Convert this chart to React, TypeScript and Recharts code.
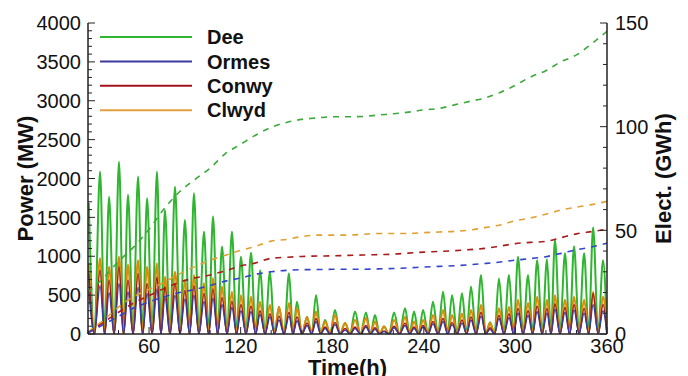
import { LineChart, Line, XAxis, YAxis, Legend } from 'recharts';

// peak / trough times of each generation phase (h)
const peakTimes = [20.5, 27.9, 33.8, 40.3, 46.2, 52.8, 58.7, 65.2, 70.4, 77.0, 83.5, 89.4, 96.0, 101.9, 107.8, 114.3, 120.2, 126.8, 132.7, 139.2, 145.1, 151.7, 156.9, 163.5, 169.4, 175.3, 181.8, 188.4, 194.9, 202.1, 208.0, 213.9, 220.5, 227.7, 233.6, 239.5, 246.0, 252.6, 258.5, 265.0, 270.9, 277.5, 283.4, 289.2, 295.8, 301.7, 308.3, 314.2, 320.7, 325.9, 332.5, 338.4, 345.0, 350.9, 357.4];
const troughTimes = [24.2, 30.9, 37.1, 43.3, 49.5, 55.8, 62.0, 67.8, 73.7, 80.3, 86.5, 92.7, 99.0, 104.9, 111.1, 117.3, 123.5, 129.8, 136.0, 142.2, 148.4, 154.3, 160.2, 166.5, 172.4, 178.6, 185.1, 191.7, 198.5, 205.1, 211.0, 217.2, 224.1, 230.7, 236.6, 242.8, 249.3, 255.6, 261.8, 268.0, 274.2, 280.5, 286.3, 292.5, 298.8, 305.0, 311.3, 317.5, 323.3, 329.2, 335.5, 341.7, 348.0, 354.2, 360];

// peak power (MW)
const deePeaks = [1685, 2090, 1765, 2215, 1790, 2025, 1745, 2090, 1595, 1895, 1465, 1810, 1315, 1510, 1125, 1315, 995, 1045, 820, 800, 350, 780, 415, 220, 500, 180, 310, 140, 290, 275, 245, 95, 275, 330, 290, 310, 415, 545, 500, 525, 610, 760, 150, 715, 760, 995, 760, 950, 960, 1210, 1040, 1130, 1040, 1370, 950];
const ormesPeaks = [560, 620, 530, 650, 540, 600, 520, 580, 470, 500, 450, 500, 420, 460, 380, 340, 300, 290, 250, 220, 180, 230, 170, 110, 160, 70, 120, 50, 70, 90, 60, 30, 80, 110, 70, 90, 130, 160, 120, 140, 180, 230, 60, 200, 210, 270, 240, 290, 270, 320, 280, 310, 270, 380, 300];
const conwyPeaks = [780, 825, 695, 865, 695, 780, 650, 735, 610, 650, 560, 620, 520, 580, 470, 420, 380, 360, 300, 260, 230, 280, 220, 140, 200, 90, 150, 70, 90, 110, 80, 40, 100, 140, 90, 110, 160, 200, 150, 180, 220, 280, 80, 240, 260, 330, 300, 360, 330, 390, 340, 380, 330, 520, 380];
const clwydPeaks = [910, 975, 865, 995, 890, 950, 865, 910, 735, 800, 695, 760, 655, 720, 610, 545, 500, 480, 415, 375, 350, 400, 335, 220, 290, 160, 245, 140, 180, 205, 160, 95, 180, 220, 160, 180, 245, 310, 245, 265, 310, 375, 140, 330, 350, 440, 400, 480, 440, 500, 440, 480, 440, 545, 480];

// cumulative electricity (GWh)
const cumTimes = [20, 30, 40, 50, 60, 70, 80, 90, 100, 110, 120, 130, 140, 150, 160, 170, 180, 190, 200, 210, 220, 230, 240, 250, 260, 270, 280, 290, 300, 310, 320, 330, 340, 350, 360];
const deeCum = [20, 27, 35, 42, 50.5, 60.5, 68.6, 74.5, 80, 87, 91.5, 96, 99.7, 102, 103.5, 104.2, 104.8, 104.8, 104.9, 105.6, 106.2, 107, 108.1, 108.8, 110.5, 112.2, 113.8, 116.5, 120, 124, 127, 131.4, 134.6, 140, 146];
const ormesCum = [0.5, 4.5, 8.5, 12.5, 15.5, 18, 20, 21.5, 23.4, 25.5, 27, 28.8, 30, 30.7, 31, 31.1, 31.2, 31.2, 31.2, 31.4, 31.6, 31.9, 32.3, 32.6, 32.9, 33.4, 34, 34.7, 35.6, 36.4, 37.3, 38.9, 40.6, 42, 43.8];
const conwyCum = [0.5, 5.5, 10.5, 15, 18.5, 22, 25, 27, 28.5, 30.5, 32.8, 34.3, 36.5, 37, 37.4, 37.6, 37.7, 37.9, 38.1, 38.3, 38.5, 39, 39.5, 39.8, 40.2, 40.7, 41.3, 42.4, 43.6, 44.2, 44.7, 46.5, 48.3, 49.4, 50.5];
const clwydCum = [1, 6.5, 13, 18, 21.5, 25, 29, 32.5, 35.5, 38, 40.3, 42.3, 44.8, 45.6, 47, 47.7, 47.7, 47.7, 48.1, 48.5, 48.5, 48.5, 48.9, 49.2, 49.5, 50.1, 51.3, 52.6, 54.6, 56, 57.8, 59.8, 61.2, 62.4, 64];

const xTicks = [20, 40, 60, 80, 100, 120, 140, 160, 180, 200, 220, 240, 260, 280, 300, 320, 340, 360];
const powerTicks = Array.from({ length: 41 }, (_, i) => i * 100);
const energyTicks = Array.from({ length: 16 }, (_, i) => i * 10);

const FONT = 'Liberation Sans, Arial, sans-serif';
const AXIS = '#222';

const powerData = peakTimes.flatMap((t, i) => [
  { t, dee: deePeaks[i], ormes: ormesPeaks[i], conwy: conwyPeaks[i], clwyd: clwydPeaks[i] },
  { t: troughTimes[i], dee: 0, ormes: 0, conwy: 0, clwyd: 0 },
]);

const cumData = cumTimes.map((t, i) => ({
  t,
  dee: deeCum[i],
  ormes: ormesCum[i],
  conwy: conwyCum[i],
  clwyd: clwydCum[i],
}));

const series = [
  { key: 'dee', name: 'Dee', color: '#2fb52f', dash: '#3aaa3a', width: 2 },
  { key: 'clwyd', name: 'Clwyd', color: '#e08a0a', dash: '#e0a030', width: 2 },
  { key: 'conwy', name: 'Conwy', color: '#a0141e', dash: '#a81c1c', width: 1.4 },
  { key: 'ormes', name: 'Ormes', color: '#3b3b9e', dash: '#3344cc', width: 1.4 },
];
const legendOrder = ['dee', 'ormes', 'conwy', 'clwyd'];

function LeftTick({ x, y, payload }: any) {
  const ax = x + 8;
  const major = payload.value % 500 === 0;
  return (
    <g>
      <line x1={ax} x2={ax + (major ? 7 : 4)} y1={y} y2={y} stroke={AXIS} strokeWidth={1} />
      {major && (
        <text x={ax - 7} y={y} dy="0.36em" textAnchor="end" fontSize={20} fontFamily={FONT} fill="#111">
          {payload.value}
        </text>
      )}
    </g>
  );
}

function RightTick({ x, y, payload }: any) {
  const ax = x - 8;
  const major = payload.value % 50 === 0;
  return (
    <g>
      <line x1={ax} x2={ax - (major ? 7 : 4)} y1={y} y2={y} stroke={AXIS} strokeWidth={1} />
      {major && (
        <text x={ax + 8} y={y} dy="0.36em" textAnchor="start" fontSize={20} fontFamily={FONT} fill="#111">
          {payload.value}
        </text>
      )}
    </g>
  );
}

function BottomTick({ x, y, payload }: any) {
  const ay = y - 8;
  const major = payload.value % 60 === 0;
  return (
    <g>
      <line x1={x} x2={x} y1={ay} y2={ay - (major ? 7 : 4)} stroke={AXIS} strokeWidth={1} />
      {major && (
        <text x={x} y={ay + 19} textAnchor="middle" fontSize={20} fontFamily={FONT} fill="#111">
          {payload.value}
        </text>
      )}
    </g>
  );
}

function LegendBox() {
  return (
    <svg width={200} height={100}>
      {legendOrder.map((k, i) => {
        const s = series.find((d) => d.key === k)!;
        const y = 12 + i * 24.4;
        return (
          <g key={k}>
            <line x1={5} x2={97} y1={y} y2={y} stroke={s.key === 'clwyd' ? '#e0a040' : s.color} strokeWidth={2} />
            <text x={112} y={y} dy="0.36em" fontSize={20} fontWeight="bold" fontFamily={FONT} fill="#111">
              {s.name}
            </text>
          </g>
        );
      })}
    </svg>
  );
}

export default function App() {
  return (
    <div style={{ position: 'absolute', left: 0, top: 0, background: '#fff' }}>
      <LineChart width={688} height={376} margin={{ top: 23, right: 21, bottom: 12, left: 28 }}>
        <XAxis
          dataKey="t"
          type="number"
          domain={[20, 360]}
          ticks={xTicks}
          interval={0}
          allowDataOverflow
          tickLine={false}
          tickSize={6}
          tickMargin={2}
          tick={<BottomTick />}
          axisLine={{ stroke: AXIS, strokeWidth: 1.5 }}
          height={30}
          label={{ value: 'Time(h)', position: 'insideBottom', offset: -11, fontSize: 22, fontWeight: 'bold', fontFamily: FONT, fill: '#111' }}
        />
        <XAxis
          xAxisId="top"
          orientation="top"
          type="number"
          domain={[20, 360]}
          tick={false}
          tickLine={false}
          height={0}
          axisLine={{ stroke: AXIS, strokeWidth: 1.5 }}
        />
        <YAxis
          yAxisId="left"
          domain={[0, 4000]}
          ticks={powerTicks}
          interval={0}
          allowDataOverflow
          tickLine={false}
          tickSize={6}
          tickMargin={2}
          tick={<LeftTick />}
          width={60}
          axisLine={{ stroke: AXIS, strokeWidth: 1.5 }}
          label={{ value: 'Power (MW)', angle: -90, position: 'insideLeft', offset: -3, style: { textAnchor: 'middle' }, fontSize: 22, fontWeight: 'bold', fontFamily: FONT, fill: '#111' }}
        />
        <YAxis
          yAxisId="right"
          orientation="right"
          domain={[0, 150]}
          ticks={energyTicks}
          interval={0}
          allowDataOverflow
          tickLine={false}
          tickSize={6}
          tickMargin={2}
          tick={<RightTick />}
          width={60}
          axisLine={{ stroke: AXIS, strokeWidth: 1.5 }}
          label={{ value: 'Elect. (GWh)', angle: -90, position: 'insideRight', offset: 4, style: { textAnchor: 'middle' }, fontSize: 22, fontWeight: 'bold', fontFamily: FONT, fill: '#111' }}
        />
        <Legend
          content={<LegendBox />}
          verticalAlign="middle"
          align="center"
          wrapperStyle={{ left: 95, top: 25, width: 200, height: 100 }}
        />
        {series.map((s) => (
          <Line
            key={s.key}
            data={powerData}
            yAxisId="left"
            dataKey={s.key}
            name={s.name}
            type="monotone"
            stroke={s.color}
            strokeWidth={s.width}
            dot={false}
            activeDot={false}
            isAnimationActive={false}
          />
        ))}
        {series.map((s) => (
          <Line
            key={s.key + 'Cum'}
            data={cumData}
            yAxisId="right"
            dataKey={s.key}
            name={s.name + ' cumulative'}
            legendType="none"
            type="monotone"
            stroke={s.dash}
            strokeWidth={1.6}
            strokeDasharray="6 6"
            dot={false}
            activeDot={false}
            isAnimationActive={false}
          />
        ))}
      </LineChart>
    </div>
  );
}
